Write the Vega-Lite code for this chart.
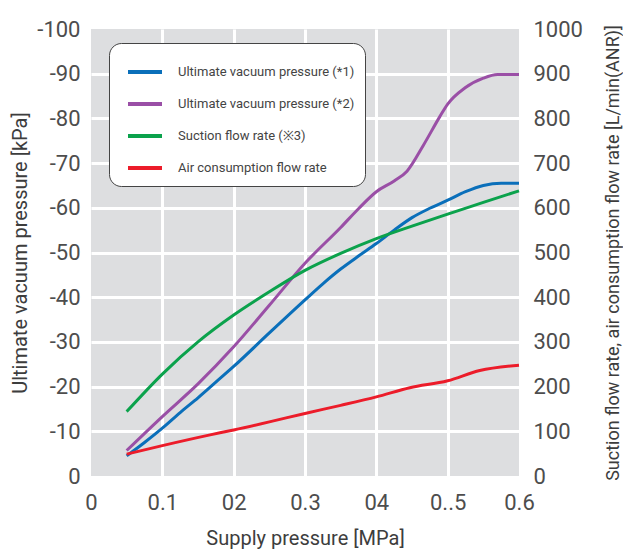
{
  "$schema": "https://vega.github.io/schema/vega-lite/v6.json",
  "width": 428,
  "height": 447,
  "autosize": "none",
  "padding": {"left": 91, "top": 29, "right": 104, "bottom": 74},
  "background": "white",
  "config": {
    "font": "Roboto",
    "view": {"fill": "#dddee0", "stroke": null},
    "axis": {"labelFont": "Roboto", "titleFont": "Roboto", "labelColor": "#4d4d4d", "titleColor": "#3d3d3d", "titleFontWeight": "normal", "domain": false, "ticks": false}
  },
  "datasets": {
    "vacuum": [
      {"p": 0.05, "series": "Ultimate vacuum pressure (*1)", "v": -4.5},
      {"p": 0.075, "series": "Ultimate vacuum pressure (*1)", "v": -7.5},
      {"p": 0.1, "series": "Ultimate vacuum pressure (*1)", "v": -10.7},
      {"p": 0.125, "series": "Ultimate vacuum pressure (*1)", "v": -14.2},
      {"p": 0.15, "series": "Ultimate vacuum pressure (*1)", "v": -17.5},
      {"p": 0.175, "series": "Ultimate vacuum pressure (*1)", "v": -21},
      {"p": 0.2, "series": "Ultimate vacuum pressure (*1)", "v": -24.5},
      {"p": 0.25, "series": "Ultimate vacuum pressure (*1)", "v": -32},
      {"p": 0.3, "series": "Ultimate vacuum pressure (*1)", "v": -39.4},
      {"p": 0.325, "series": "Ultimate vacuum pressure (*1)", "v": -43},
      {"p": 0.35, "series": "Ultimate vacuum pressure (*1)", "v": -46.3},
      {"p": 0.375, "series": "Ultimate vacuum pressure (*1)", "v": -49.2},
      {"p": 0.4, "series": "Ultimate vacuum pressure (*1)", "v": -52},
      {"p": 0.425, "series": "Ultimate vacuum pressure (*1)", "v": -55},
      {"p": 0.45, "series": "Ultimate vacuum pressure (*1)", "v": -57.8},
      {"p": 0.475, "series": "Ultimate vacuum pressure (*1)", "v": -59.9},
      {"p": 0.5, "series": "Ultimate vacuum pressure (*1)", "v": -61.7},
      {"p": 0.525, "series": "Ultimate vacuum pressure (*1)", "v": -63.6},
      {"p": 0.55, "series": "Ultimate vacuum pressure (*1)", "v": -65},
      {"p": 0.575, "series": "Ultimate vacuum pressure (*1)", "v": -65.5},
      {"p": 0.6, "series": "Ultimate vacuum pressure (*1)", "v": -65.5},
      {"p": 0.05, "series": "Ultimate vacuum pressure (*2)", "v": -5.7},
      {"p": 0.1, "series": "Ultimate vacuum pressure (*2)", "v": -13.3},
      {"p": 0.15, "series": "Ultimate vacuum pressure (*2)", "v": -20.6},
      {"p": 0.2, "series": "Ultimate vacuum pressure (*2)", "v": -28.9},
      {"p": 0.25, "series": "Ultimate vacuum pressure (*2)", "v": -38.2},
      {"p": 0.3, "series": "Ultimate vacuum pressure (*2)", "v": -47.6},
      {"p": 0.35, "series": "Ultimate vacuum pressure (*2)", "v": -55.6},
      {"p": 0.375, "series": "Ultimate vacuum pressure (*2)", "v": -59.8},
      {"p": 0.4, "series": "Ultimate vacuum pressure (*2)", "v": -63.6},
      {"p": 0.425, "series": "Ultimate vacuum pressure (*2)", "v": -66},
      {"p": 0.443, "series": "Ultimate vacuum pressure (*2)", "v": -68.2},
      {"p": 0.466, "series": "Ultimate vacuum pressure (*2)", "v": -74},
      {"p": 0.489, "series": "Ultimate vacuum pressure (*2)", "v": -80.4},
      {"p": 0.5, "series": "Ultimate vacuum pressure (*2)", "v": -83.2},
      {"p": 0.524, "series": "Ultimate vacuum pressure (*2)", "v": -86.8},
      {"p": 0.55, "series": "Ultimate vacuum pressure (*2)", "v": -89},
      {"p": 0.57, "series": "Ultimate vacuum pressure (*2)", "v": -89.8},
      {"p": 0.6, "series": "Ultimate vacuum pressure (*2)", "v": -89.8}
    ],
    "flow": [
      {"p": 0.05, "series": "Suction flow rate (\u203b3)", "v": 144},
      {"p": 0.1, "series": "Suction flow rate (\u203b3)", "v": 228},
      {"p": 0.15, "series": "Suction flow rate (\u203b3)", "v": 300},
      {"p": 0.2, "series": "Suction flow rate (\u203b3)", "v": 360},
      {"p": 0.25, "series": "Suction flow rate (\u203b3)", "v": 412},
      {"p": 0.3, "series": "Suction flow rate (\u203b3)", "v": 460},
      {"p": 0.35, "series": "Suction flow rate (\u203b3)", "v": 498},
      {"p": 0.4, "series": "Suction flow rate (\u203b3)", "v": 531},
      {"p": 0.45, "series": "Suction flow rate (\u203b3)", "v": 559},
      {"p": 0.5, "series": "Suction flow rate (\u203b3)", "v": 586},
      {"p": 0.55, "series": "Suction flow rate (\u203b3)", "v": 612},
      {"p": 0.6, "series": "Suction flow rate (\u203b3)", "v": 638},
      {"p": 0.05, "series": "Air consumption flow rate", "v": 49},
      {"p": 0.1, "series": "Air consumption flow rate", "v": 68},
      {"p": 0.167, "series": "Air consumption flow rate", "v": 92},
      {"p": 0.2, "series": "Air consumption flow rate", "v": 103},
      {"p": 0.25, "series": "Air consumption flow rate", "v": 121},
      {"p": 0.3, "series": "Air consumption flow rate", "v": 140},
      {"p": 0.35, "series": "Air consumption flow rate", "v": 158},
      {"p": 0.4, "series": "Air consumption flow rate", "v": 177},
      {"p": 0.447, "series": "Air consumption flow rate", "v": 197.5},
      {"p": 0.5, "series": "Air consumption flow rate", "v": 213},
      {"p": 0.545, "series": "Air consumption flow rate", "v": 236},
      {"p": 0.6, "series": "Air consumption flow rate", "v": 248}
    ]
  },
  "layer": [
    {
      "data": {"name": "vacuum"},
      "mark": {"type": "line", "interpolate": "monotone", "strokeWidth": 3},
      "encoding": {
        "x": {
          "field": "p", "type": "quantitative",
          "scale": {"domain": [0, 0.6], "nice": false},
          "axis": {
            "values": [0, 0.1, 0.2, 0.3, 0.4, 0.5, 0.6],
            "labelExpr": "datum.value == 0 ? '0' : datum.value == 0.1 ? '0.1' : datum.value == 0.2 ? '02' : datum.value == 0.3 ? '0.3' : datum.value == 0.4 ? '04' : datum.value == 0.5 ? '0..5' : '0.6'",
            "title": "Supply pressure [MPa]",
            "titleFontSize": 20,
            "labelFontSize": 22,
            "labelPadding": 16,
            "titlePadding": 15,
            "labelFlush": false,
            "gridColor": "white",
            "gridWidth": 3,
            "gridOpacity": {"condition": {"test": "datum.value == 0 || datum.value == 0.6", "value": 0}, "value": 1}
          }
        },
        "y": {
          "field": "v", "type": "quantitative",
          "scale": {"domain": [-100, 0], "reverse": true, "nice": false},
          "axis": {
            "values": [-100, -90, -80, -70, -60, -50, -40, -30, -20, -10, 0],
            "labelExpr": "'' + datum.value",
            "title": "Ultimate vacuum pressure [kPa]",
            "titleFontSize": 20,
            "labelFontSize": 22,
            "labelPadding": 11,
            "titlePadding": 6,
            "gridColor": "white",
            "gridWidth": 3,
            "gridOpacity": {"condition": {"test": "datum.value == 0 || datum.value == -100", "value": 0}, "value": 1}
          }
        },
        "color": {
          "field": "series", "type": "nominal",
          "scale": {
            "domain": ["Ultimate vacuum pressure (*1)", "Ultimate vacuum pressure (*2)", "Suction flow rate (\u203b3)", "Air consumption flow rate"],
            "range": ["#0a6fba", "#9a4fa6", "#0ba24c", "#ec1c2a"]
          },
          "legend": {
            "title": null,
            "orient": "none",
            "legendX": 18,
            "legendY": 14,
            "fillColor": "white",
            "strokeColor": "#444444",
            "cornerRadius": 12,
            "padding": 10,
            "symbolOffset": 7,
            "symbolType": "stroke",
            "symbolSize": 1156,
            "symbolStrokeWidth": 4,
            "labelFont": "Roboto",
            "labelFontSize": 13,
            "labelColor": "#444444",
            "labelOffset": 14,
            "labelLimit": 300,
            "rowPadding": 5
          }
        }
      }
    },
    {
      "data": {"name": "flow"},
      "mark": {"type": "line", "interpolate": "monotone", "strokeWidth": 3},
      "encoding": {
        "x": {"field": "p", "type": "quantitative", "scale": {"domain": [0, 0.6], "nice": false}},
        "y": {
          "field": "v", "type": "quantitative",
          "scale": {"domain": [0, 1000], "nice": false},
          "axis": {
            "orient": "right",
            "values": [0, 100, 200, 300, 400, 500, 600, 700, 800, 900, 1000],
            "labelExpr": "'' + datum.value",
            "title": "Suction flow rate, air consumption flow rate [L/min(ANR)]",
            "titleFontSize": 18,
            "titleAngle": 270,
            "titleBaseline": "top",
            "labelFontSize": 22,
            "labelPadding": 14,
            "titlePadding": 22,
            "grid": false
          }
        },
        "color": {"field": "series", "type": "nominal"}
      }
    }
  ],
  "resolve": {"scale": {"y": "independent"}}
}
